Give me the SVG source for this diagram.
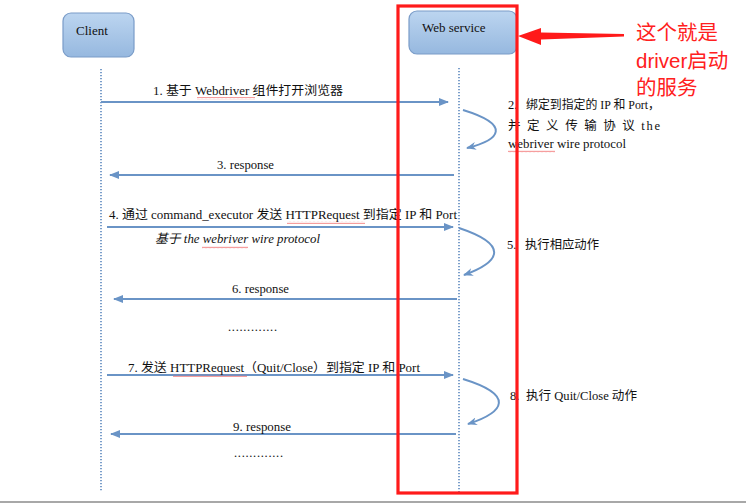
<svg xmlns="http://www.w3.org/2000/svg" width="746" height="504" viewBox="0 0 746 504">
  <defs>
    <linearGradient id="boxFill" x1="0" y1="0" x2="0" y2="1">
      <stop offset="0" stop-color="#bcd5f0"/>
      <stop offset="1" stop-color="#96b8df"/>
    </linearGradient>
    <marker id="head" markerWidth="10" markerHeight="8" refX="9" refY="4" orient="auto" markerUnits="userSpaceOnUse">
      <path d="M0,0 L10,4 L0,8 Z" fill="#6a94c6"/>
    </marker>
    <marker id="loopHead" markerWidth="10" markerHeight="8" refX="9" refY="4" orient="auto" markerUnits="userSpaceOnUse">
      <path d="M0,0 L10,4 L0,8 L3,4 Z" fill="#6a94c6"/>
    </marker>
    <pattern id="squiggle" width="4" height="3" patternUnits="userSpaceOnUse">
      <path d="M0,2.2 L1,0.8 L2,2.2 L3,0.8 L4,2.2" fill="none" stroke="#f05a5a" stroke-width="0.6"/>
    </pattern>
  </defs>
  <style>
    .box { fill: url(#boxFill); stroke: #7a9cc8; stroke-width: 1.2; }
    .life { stroke: #5b87be; stroke-width: 1.6; stroke-dasharray: 1.3 1.7; fill: none; }
    .msg { stroke: #6a94c6; stroke-width: 2; fill: none; marker-end: url(#head); }
    .loop { stroke: #6a94c6; stroke-width: 2; fill: none; marker-end: url(#loopHead); }
    .t { font-family: "Liberation Serif", "Noto Sans CJK SC", serif; font-size: 12.5px; fill: #111; }
    .ti { font-family: "Liberation Serif", "Noto Sans CJK SC", serif; font-size: 12.5px; font-style: italic; fill: #111; }
    .name { font-family: "Liberation Serif", "Noto Sans CJK SC", serif; font-size: 13px; fill: #111; }
    .note { font-family: "Liberation Sans", "Noto Sans CJK SC", sans-serif; font-size: 20.5px; fill: #ff2020; }
    .sq { fill: url(#squiggle); }
  </style>

  <rect width="746" height="504" fill="#ffffff"/>

  <!-- participants -->
  <g id="client">
    <rect class="box" x="63" y="13" width="71" height="44" rx="8"/>
    <text class="name" x="76" y="35">Client</text>
    <line class="life" x1="101" y1="69" x2="101" y2="492"/>
  </g>
  <g id="web-service">
    <rect class="box" x="409" y="11" width="108" height="43" rx="8"/>
    <text class="name" x="422" y="32">Web service</text>
    <line class="life" x1="459" y1="68" x2="459" y2="492"/>
  </g>

  <!-- messages and self calls -->
  <g id="connectors">
    <line class="msg" x1="101" y1="102" x2="448" y2="102"/>
    <path class="loop" d="M463,110 C512,125 500,140 467,148"/>
    <line class="msg" x1="454" y1="175" x2="110" y2="175"/>
    <line class="msg" x1="107" y1="227" x2="453" y2="227"/>
    <path class="loop" d="M459,228 C510,245 500,262 464,275"/>
    <line class="msg" x1="457" y1="299" x2="114" y2="299"/>
    <line class="msg" x1="107" y1="375" x2="453" y2="375"/>
    <path class="loop" d="M463,379 C515,395 505,412 468,424"/>
    <line class="msg" x1="456" y1="434" x2="111" y2="434"/>
  </g>

  <!-- message labels -->
  <g id="labels">
    <text class="t" x="153" y="95" textLength="190" lengthAdjust="spacingAndGlyphs">1. 基于 Webdriver 组件打开浏览器</text>
    <rect class="sq" x="197" y="97" width="58" height="3"/>

    <text class="t" x="508" y="109">2.</text>
    <text class="t" x="526" y="109" textLength="134" lengthAdjust="spacingAndGlyphs">绑定到指定的 IP 和 Port，</text>
    <text class="t" x="508" y="130" textLength="152" lengthAdjust="spacing">并 定 义 传 输 协 议 the</text>
    <text class="t" x="508" y="148" textLength="118" lengthAdjust="spacingAndGlyphs">webriver wire protocol</text>
    <rect class="sq" x="508" y="150" width="47" height="3"/>

    <text class="t" x="217" y="169" textLength="57" lengthAdjust="spacingAndGlyphs">3. response</text>

    <text class="t" x="109" y="219" textLength="348" lengthAdjust="spacingAndGlyphs">4. 通过 command_executor 发送 HTTPRequest 到指定 IP 和 Port</text>
    <rect class="sq" x="287" y="221" width="78" height="3"/>
    <text class="ti" x="155" y="243" textLength="165" lengthAdjust="spacingAndGlyphs">基于 the webriver wire protocol</text>
    <rect class="sq" x="202" y="246" width="46" height="3"/>

    <text class="t" x="507" y="249">5.</text>
    <text class="t" x="525" y="249" textLength="74" lengthAdjust="spacingAndGlyphs">执行相应动作</text>

    <text class="t" x="232" y="293" textLength="57" lengthAdjust="spacingAndGlyphs">6. response</text>
    <text class="t" x="228" y="331" textLength="49" lengthAdjust="spacing">.............</text>

    <text class="t" x="128" y="372" textLength="292" lengthAdjust="spacingAndGlyphs">7. 发送 HTTPRequest（Quit/Close）到指定 IP 和 Port</text>
    <rect class="sq" x="173" y="374" width="74" height="3"/>

    <text class="t" x="510" y="400">8.</text>
    <text class="t" x="526" y="400" textLength="111" lengthAdjust="spacingAndGlyphs">执行 Quit/Close 动作</text>

    <text class="t" x="233" y="431" textLength="58" lengthAdjust="spacingAndGlyphs">9. response</text>
    <text class="t" x="234" y="457" textLength="49" lengthAdjust="spacing">.............</text>
  </g>

  <!-- highlight around the service lifeline -->
  <g id="highlight">
    <rect x="398" y="6" width="119" height="487" fill="none" stroke="#ff1a1a" stroke-width="3.2"/>
    <polygon points="624,34 541,32.5 541,28 518,36 541,45 541,39.5 624,36.5" fill="#ff1a1a"/>
    <text class="note" x="636" y="40">这个就是</text>
    <text class="note" x="636" y="68">driver启动</text>
    <text class="note" x="636" y="95">的服务</text>
  </g>

  <line x1="0" y1="502" x2="746" y2="502" stroke="#a8a8a8" stroke-width="2"/>
</svg>
